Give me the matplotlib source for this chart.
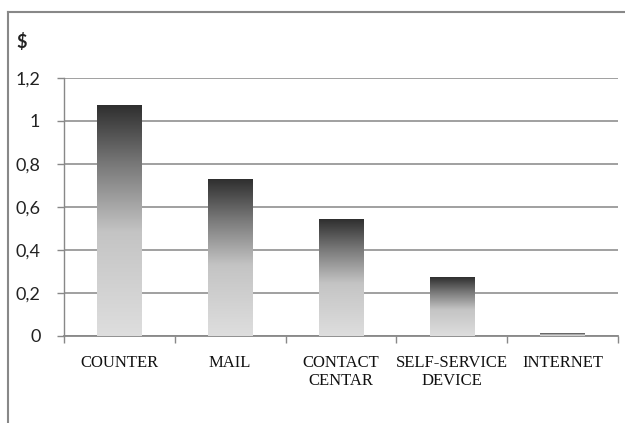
import matplotlib.pyplot as plt
import numpy as np
from matplotlib.colors import LinearSegmentedColormap
from matplotlib.lines import Line2D

categories = ['COUNTER', 'MAIL', 'CONTACT\nCENTAR', 'SELF-SERVICE\nDEVICE', 'INTERNET']
costs = [1.07, 0.73, 0.54, 0.27, 0.01]
yticks = [0, 0.2, 0.4, 0.6, 0.8, 1.0, 1.2]
ylabels = ['0', '0,2', '0,4', '0,6', '0,8', '1', '1,2']

fig = plt.figure(figsize=(6.25, 4.23), dpi=100)
ax = fig.add_axes([0.1024, 0.2057, 0.8864, 0.6099])

# bar shading: light at bottom, dark at top
cmap = LinearSegmentedColormap.from_list('barshade', [(0.0, '#dedede'), (0.45, '#c4c4c4'), (0.75, '#777777'), (1.0, '#2f2f2f')])
grad = np.linspace(0, 1, 256).reshape(-1, 1)
bw = 0.4
for i, v in enumerate(costs):
    ax.imshow(grad, extent=[i - bw/2, i + bw/2, 0, v], origin='lower', aspect='auto', cmap=cmap, zorder=3, interpolation='bicubic')

ax.set_xlim(-0.5, len(categories) - 0.5)
ax.set_ylim(0, 1.2)
ax.set_yticks(yticks)
ax.set_yticklabels(ylabels, fontfamily='Lato', fontsize=13, color='#222222')
ax.set_xticks(range(len(categories)))
ax.set_xticklabels(categories, fontfamily='Liberation Serif', fontsize=12, color='#111111', va='top', linespacing=1.1)
ax.tick_params(axis='x', length=0, pad=14)
ax.tick_params(axis='y', length=5, width=1, color='#888888', pad=12)
ax.set_xticks(np.arange(-0.5, len(categories)), minor=True)
ax.tick_params(axis='x', which='minor', length=5, width=1, color='#888888')

ax.grid(axis='y', color='#999999', linewidth=1.3, zorder=0)
ax.set_axisbelow(True)
for s in ['top', 'right']:
    ax.spines[s].set_visible(False)
ax.spines['left'].set_color('#888888')
ax.spines['bottom'].set_color('#888888')
ax.spines['left'].set_linewidth(1)
ax.spines['bottom'].set_linewidth(1.3)

fig.text(0.026, 0.887, '$', fontfamily='Lato', fontsize=13, fontweight='bold', color='#222222')

# outer chart frame
fig.add_artist(Line2D([0.0128, 0.0128], [0, 0.972], transform=fig.transFigure, color='#888888', linewidth=1.5))
fig.add_artist(Line2D([0.0128, 1.0], [0.972, 0.972], transform=fig.transFigure, color='#888888', linewidth=1.5))

fig.savefig('out.png', dpi=100)
